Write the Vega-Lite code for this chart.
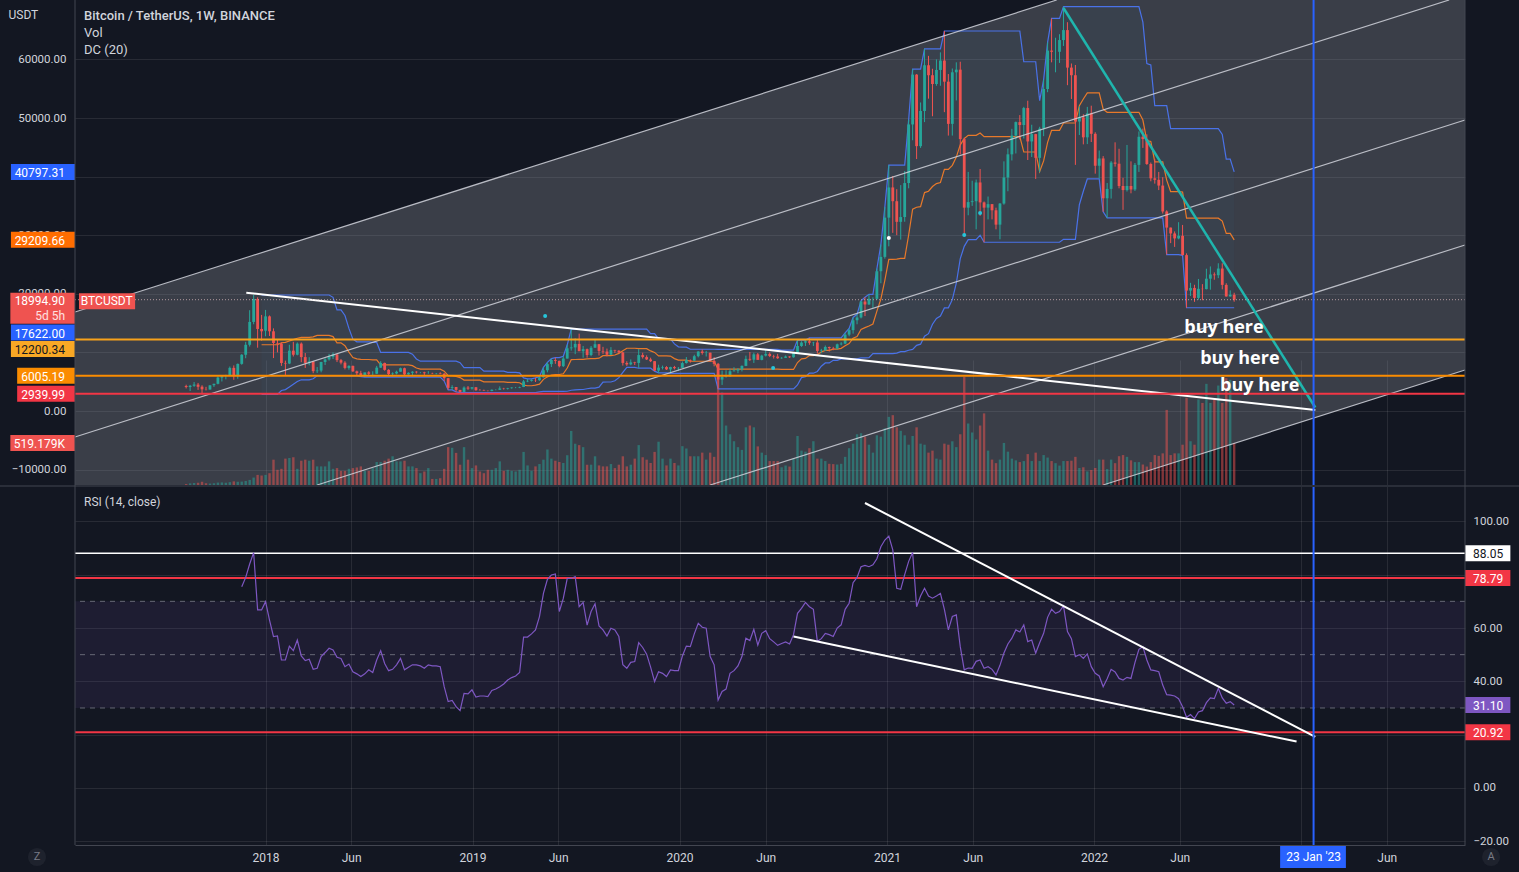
{
"$schema": "https://vega.github.io/schema/vega-lite/v6.json",
"width": 1390,
"height": 845,
"autosize": {"type": "none"},
"padding": {"left": 75, "top": 0, "right": 54, "bottom": 27},
"background": "#131722",
"config": {
  "view": {"stroke": null},
  "font": "Roboto",
  "scale": {"continuousPadding": 0},
  "axis": {"labelColor": "#d1d4dc", "labelFont": "Roboto", "labelFontSize": 11.5, "tickSize": 0, "domain": false, "gridColor": "#ffffff", "gridOpacity": 0.09, "titleColor": "#d1d4dc"}
},
"datasets": {
"btc": [
{"d":"2017-08-14","o":4261,"h":4485,"l":3850,"c":4086,"v":12000},
{"d":"2017-08-21","o":4087,"h":4453,"l":3400,"c":4310,"v":20000},
{"d":"2017-08-28","o":4310,"h":4939,"l":4124,"c":4509,"v":25000},
{"d":"2017-09-04","o":4505,"h":4788,"l":3603,"c":4130,"v":28000},
{"d":"2017-09-11","o":4153,"h":4394,"l":2817,"c":3699,"v":40000},
{"d":"2017-09-18","o":3690,"h":4123,"l":3505,"c":3660,"v":22000},
{"d":"2017-09-25","o":3660,"h":4406,"l":3653,"c":4378,"v":18000},
{"d":"2017-10-02","o":4400,"h":4658,"l":4110,"c":4640,"v":22000},
{"d":"2017-10-09","o":4640,"h":5900,"l":4550,"c":5710,"v":30000},
{"d":"2017-10-16","o":5710,"h":6069,"l":5037,"c":5930,"v":32000},
{"d":"2017-10-23","o":5975,"h":6189,"l":5400,"c":6130,"v":28000},
{"d":"2017-10-30","o":6130,"h":7590,"l":6030,"c":7360,"v":35000},
{"d":"2017-11-06","o":7360,"h":7776,"l":5325,"c":5950,"v":45000},
{"d":"2017-11-13","o":5950,"h":8100,"l":5500,"c":8040,"v":40000},
{"d":"2017-11-20","o":8040,"h":9700,"l":7900,"c":9600,"v":42000,"r":75.5},
{"d":"2017-11-27","o":9600,"h":11800,"l":9000,"c":11300,"v":50000,"r":79},
{"d":"2017-12-04","o":11300,"h":17200,"l":11000,"c":15200,"v":63000,"r":84},
{"d":"2017-12-11","o":15200,"h":19798,"l":14800,"c":19100,"v":92000,"r":88.3},
{"d":"2017-12-18","o":19100,"h":19400,"l":10800,"c":14000,"v":125000,"r":66.8},
{"d":"2017-12-25","o":14000,"h":16400,"l":12000,"c":13600,"v":117000,"r":66.8},
{"d":"2018-01-01","o":13700,"h":17250,"l":12750,"c":16150,"v":125000,"r":69.9},
{"d":"2018-01-08","o":16150,"h":16300,"l":12800,"c":13600,"v":146000,"r":63},
{"d":"2018-01-15","o":13600,"h":14100,"l":9035,"c":11600,"v":313000,"r":56.8},
{"d":"2018-01-22","o":11600,"h":12250,"l":10000,"c":11500,"v":188000,"r":57},
{"d":"2018-01-29","o":11500,"h":11700,"l":7700,"c":8200,"v":200000,"r":48},
{"d":"2018-02-05","o":8200,"h":8600,"l":6000,"c":8100,"v":326000,"r":48},
{"d":"2018-02-12","o":8100,"h":11300,"l":8000,"c":10300,"v":334000,"r":53.2},
{"d":"2018-02-19","o":10300,"h":11800,"l":9300,"c":9600,"v":343000,"r":51.5},
{"d":"2018-02-26","o":9600,"h":11700,"l":9500,"c":11500,"v":200000,"r":55.5},
{"d":"2018-03-05","o":11500,"h":11700,"l":8330,"c":9200,"v":300000,"r":49.5},
{"d":"2018-03-12","o":9200,"h":9900,"l":7350,"c":8200,"v":313000,"r":47.8},
{"d":"2018-03-19","o":8200,"h":9180,"l":7800,"c":8450,"v":300000,"r":48.3},
{"d":"2018-03-26","o":8450,"h":8500,"l":6450,"c":6800,"v":313000,"r":44.5},
{"d":"2018-04-02","o":6800,"h":7500,"l":6500,"c":6900,"v":230000,"r":44.9},
{"d":"2018-04-09","o":6900,"h":8400,"l":6600,"c":8360,"v":230000,"r":49.3},
{"d":"2018-04-16","o":8360,"h":9000,"l":7850,"c":8800,"v":230000,"r":50.8},
{"d":"2018-04-23","o":8800,"h":9750,"l":8600,"c":9250,"v":292000,"r":52.4},
{"d":"2018-04-30","o":9250,"h":9990,"l":8870,"c":9650,"v":200000,"r":51.8},
{"d":"2018-05-07","o":9650,"h":9700,"l":8350,"c":8680,"v":209000,"r":49},
{"d":"2018-05-14","o":8680,"h":8880,"l":7950,"c":8250,"v":175000,"r":48.6},
{"d":"2018-05-21","o":8250,"h":8500,"l":7100,"c":7350,"v":175000,"r":45.5},
{"d":"2018-05-28","o":7350,"h":7800,"l":7050,"c":7700,"v":200000,"r":46.5},
{"d":"2018-06-04","o":7700,"h":7750,"l":6650,"c":6770,"v":209000,"r":43.6},
{"d":"2018-06-11","o":6770,"h":6900,"l":6100,"c":6450,"v":217000,"r":42.8},
{"d":"2018-06-18","o":6450,"h":6860,"l":5850,"c":6150,"v":230000,"r":41.8},
{"d":"2018-06-25","o":6150,"h":6450,"l":5780,"c":6600,"v":175000,"r":42.8},
{"d":"2018-07-02","o":6600,"h":6800,"l":6100,"c":6350,"v":175000,"r":44.3},
{"d":"2018-07-09","o":6350,"h":6780,"l":6080,"c":6360,"v":209000,"r":43.3},
{"d":"2018-07-16","o":6360,"h":7700,"l":6300,"c":7400,"v":284000,"r":48},
{"d":"2018-07-23","o":7400,"h":8500,"l":7350,"c":8200,"v":284000,"r":51.5},
{"d":"2018-07-30","o":8200,"h":8250,"l":6880,"c":7020,"v":300000,"r":46.7},
{"d":"2018-08-06","o":7020,"h":7150,"l":5970,"c":6300,"v":326000,"r":44},
{"d":"2018-08-13","o":6300,"h":6600,"l":5900,"c":6400,"v":355000,"r":44.5},
{"d":"2018-08-20","o":6400,"h":6880,"l":6250,"c":6700,"v":292000,"r":46.2},
{"d":"2018-08-27","o":6700,"h":7400,"l":6700,"c":7300,"v":292000,"r":48.6},
{"d":"2018-09-03","o":7300,"h":7400,"l":6100,"c":6250,"v":300000,"r":44.3},
{"d":"2018-09-10","o":6250,"h":6600,"l":6180,"c":6520,"v":230000,"r":45.3},
{"d":"2018-09-17","o":6520,"h":6800,"l":6100,"c":6700,"v":230000,"r":46.2},
{"d":"2018-09-24","o":6700,"h":6800,"l":6400,"c":6600,"v":209000,"r":46.2},
{"d":"2018-10-01","o":6600,"h":6650,"l":6450,"c":6600,"v":146000,"r":45.8},
{"d":"2018-10-08","o":6600,"h":6700,"l":6150,"c":6450,"v":167000,"r":44.9},
{"d":"2018-10-15","o":6450,"h":6800,"l":6350,"c":6450,"v":209000,"r":46.2},
{"d":"2018-10-22","o":6450,"h":6540,"l":6300,"c":6400,"v":75000,"r":45.8},
{"d":"2018-10-29","o":6400,"h":6480,"l":6250,"c":6440,"v":75000,"r":45.8},
{"d":"2018-11-05","o":6440,"h":6600,"l":6280,"c":6350,"v":84000,"r":45.5},
{"d":"2018-11-12","o":6350,"h":6500,"l":5100,"c":5600,"v":200000,"r":38},
{"d":"2018-11-19","o":5600,"h":5650,"l":3600,"c":3950,"v":468000,"r":32.4},
{"d":"2018-11-26","o":3950,"h":4400,"l":3600,"c":4100,"v":460000,"r":32.8},
{"d":"2018-12-03","o":4100,"h":4100,"l":3270,"c":3600,"v":397000,"r":30.5},
{"d":"2018-12-10","o":3600,"h":3600,"l":3150,"c":3250,"v":251000,"r":29},
{"d":"2018-12-17","o":3250,"h":4200,"l":3250,"c":4000,"v":468000,"r":35.5},
{"d":"2018-12-24","o":4000,"h":4260,"l":3600,"c":3820,"v":313000,"r":35.3},
{"d":"2018-12-31","o":3820,"h":4080,"l":3650,"c":4050,"v":209000,"r":36.8},
{"d":"2019-01-07","o":4050,"h":4100,"l":3450,"c":3550,"v":242000,"r":34.1},
{"d":"2019-01-14","o":3550,"h":3750,"l":3480,"c":3530,"v":167000,"r":34.5},
{"d":"2019-01-21","o":3530,"h":3650,"l":3440,"c":3450,"v":146000,"r":34.5},
{"d":"2019-01-28","o":3450,"h":3500,"l":3350,"c":3420,"v":188000,"r":34.3},
{"d":"2019-02-04","o":3420,"h":3680,"l":3370,"c":3620,"v":188000,"r":36.6},
{"d":"2019-02-11","o":3620,"h":3700,"l":3540,"c":3620,"v":209000,"r":37.1},
{"d":"2019-02-18","o":3620,"h":4200,"l":3600,"c":3850,"v":292000,"r":38},
{"d":"2019-02-25","o":3850,"h":3950,"l":3650,"c":3800,"v":175000,"r":39},
{"d":"2019-03-04","o":3800,"h":3950,"l":3670,"c":3900,"v":188000,"r":40.5},
{"d":"2019-03-11","o":3900,"h":4050,"l":3800,"c":4000,"v":175000,"r":41.4},
{"d":"2019-03-18","o":4000,"h":4100,"l":3900,"c":4000,"v":167000,"r":42},
{"d":"2019-03-25","o":4000,"h":4150,"l":3900,"c":4100,"v":188000,"r":43.3},
{"d":"2019-04-01","o":4100,"h":5300,"l":4070,"c":5050,"v":409000,"r":56.6},
{"d":"2019-04-08","o":5050,"h":5470,"l":4920,"c":5150,"v":242000,"r":56.6},
{"d":"2019-04-15","o":5150,"h":5420,"l":5030,"c":5300,"v":175000,"r":57.8},
{"d":"2019-04-22","o":5300,"h":5660,"l":4950,"c":5250,"v":230000,"r":59.3},
{"d":"2019-04-29","o":5250,"h":5900,"l":5150,"c":5750,"v":259000,"r":64.3},
{"d":"2019-05-06","o":5750,"h":7450,"l":5700,"c":6950,"v":313000,"r":73},
{"d":"2019-05-13","o":6950,"h":8300,"l":6600,"c":8000,"v":439000,"r":78.3},
{"d":"2019-05-20","o":8000,"h":8950,"l":7500,"c":8700,"v":326000,"r":79.9},
{"d":"2019-05-27","o":8700,"h":9100,"l":8050,"c":8550,"v":300000,"r":80.3},
{"d":"2019-06-03","o":8550,"h":8600,"l":7450,"c":7650,"v":284000,"r":66.2},
{"d":"2019-06-10","o":7650,"h":9350,"l":7500,"c":8950,"v":272000,"r":71.1},
{"d":"2019-06-17","o":8950,"h":11300,"l":8950,"c":10700,"v":368000,"r":78.6},
{"d":"2019-06-24","o":10700,"h":13970,"l":10300,"c":10850,"v":668000,"r":78.6},
{"d":"2019-07-01","o":10850,"h":12400,"l":9700,"c":11450,"v":510000,"r":79.3},
{"d":"2019-07-08","o":11450,"h":13200,"l":10300,"c":10200,"v":493000,"r":68},
{"d":"2019-07-15","o":10200,"h":11100,"l":9100,"c":10550,"v":468000,"r":69.6},
{"d":"2019-07-22","o":10550,"h":10650,"l":9100,"c":9550,"v":251000,"r":61.1},
{"d":"2019-07-29","o":9550,"h":11100,"l":9350,"c":10800,"v":251000,"r":66.2},
{"d":"2019-08-05","o":10800,"h":12300,"l":10800,"c":11400,"v":355000,"r":69.1},
{"d":"2019-08-12","o":11400,"h":11450,"l":9470,"c":10250,"v":242000,"r":60.8},
{"d":"2019-08-19","o":10250,"h":10950,"l":9750,"c":10150,"v":230000,"r":59.3},
{"d":"2019-08-26","o":10150,"h":10650,"l":9320,"c":9600,"v":230000,"r":57},
{"d":"2019-09-02","o":9600,"h":10900,"l":9580,"c":10400,"v":259000,"r":59.9},
{"d":"2019-09-09","o":10400,"h":10450,"l":9900,"c":10300,"v":209000,"r":59.3},
{"d":"2019-09-16","o":10300,"h":10380,"l":9900,"c":10000,"v":251000,"r":56.8},
{"d":"2019-09-23","o":10000,"h":10080,"l":7750,"c":8200,"v":355000,"r":46.2},
{"d":"2019-09-30","o":8200,"h":8500,"l":7700,"c":7950,"v":230000,"r":44.9},
{"d":"2019-10-07","o":7950,"h":8800,"l":7800,"c":8300,"v":251000,"r":47.1},
{"d":"2019-10-14","o":8300,"h":8400,"l":7850,"c":8200,"v":326000,"r":47.4},
{"d":"2019-10-21","o":8200,"h":10540,"l":7300,"c":9550,"v":493000,"r":54.5},
{"d":"2019-10-28","o":9550,"h":9950,"l":8950,"c":9200,"v":343000,"r":52.7},
{"d":"2019-11-04","o":9200,"h":9500,"l":8700,"c":8800,"v":313000,"r":50.2},
{"d":"2019-11-11","o":8800,"h":9100,"l":8350,"c":8500,"v":272000,"r":45.3},
{"d":"2019-11-18","o":8500,"h":8500,"l":6800,"c":6900,"v":409000,"r":39.9},
{"d":"2019-11-25","o":6900,"h":7900,"l":6500,"c":7400,"v":535000,"r":43.6},
{"d":"2019-12-02","o":7400,"h":7750,"l":7100,"c":7500,"v":326000,"r":43},
{"d":"2019-12-09","o":7500,"h":7650,"l":7000,"c":7100,"v":242000,"r":41.8},
{"d":"2019-12-16","o":7100,"h":7550,"l":6435,"c":7500,"v":326000,"r":44.3},
{"d":"2019-12-23","o":7500,"h":7700,"l":7100,"c":7300,"v":272000,"r":44},
{"d":"2019-12-30","o":7300,"h":7500,"l":6850,"c":7350,"v":242000,"r":44},
{"d":"2020-01-06","o":7350,"h":8450,"l":7350,"c":8180,"v":480000,"r":49.5},
{"d":"2020-01-13","o":8180,"h":9200,"l":8100,"c":8700,"v":451000,"r":53.2},
{"d":"2020-01-20","o":8700,"h":8800,"l":8250,"c":8600,"v":355000,"r":53},
{"d":"2020-01-27","o":8600,"h":9600,"l":8550,"c":9350,"v":355000,"r":57.8},
{"d":"2020-02-03","o":9350,"h":10200,"l":9150,"c":10150,"v":355000,"r":61.8},
{"d":"2020-02-10","o":10150,"h":10500,"l":9620,"c":9900,"v":400000,"r":60.3},
{"d":"2020-02-17","o":9900,"h":10250,"l":9300,"c":9950,"v":314000,"r":59.9},
{"d":"2020-02-24","o":9950,"h":9960,"l":8400,"c":8550,"v":400000,"r":49.3},
{"d":"2020-03-02","o":8550,"h":9200,"l":7620,"c":8050,"v":348000,"r":46.2},
{"d":"2020-03-09","o":8050,"h":8200,"l":3782,"c":5360,"v":1336000,"r":33},
{"d":"2020-03-16","o":5360,"h":6900,"l":4450,"c":5800,"v":1143000,"r":36.2},
{"d":"2020-03-23","o":5800,"h":6950,"l":5700,"c":5900,"v":735000,"r":37.1},
{"d":"2020-03-30","o":5900,"h":7200,"l":5850,"c":6780,"v":627000,"r":43},
{"d":"2020-04-06","o":6780,"h":7470,"l":6750,"c":6900,"v":541000,"r":44},
{"d":"2020-04-13","o":6900,"h":7300,"l":6450,"c":7120,"v":468000,"r":45.8},
{"d":"2020-04-20","o":7120,"h":7780,"l":6750,"c":7700,"v":434000,"r":49.3},
{"d":"2020-04-27","o":7700,"h":9450,"l":7650,"c":8900,"v":713000,"r":56.2},
{"d":"2020-05-04","o":8900,"h":10070,"l":8530,"c":8750,"v":735000,"r":55.3},
{"d":"2020-05-11","o":8750,"h":9950,"l":8200,"c":9670,"v":713000,"r":59.5},
{"d":"2020-05-18","o":9670,"h":9900,"l":8800,"c":8720,"v":477000,"r":53.6},
{"d":"2020-05-25","o":8720,"h":9600,"l":8650,"c":9450,"v":400000,"r":58},
{"d":"2020-06-01","o":9450,"h":10400,"l":9300,"c":9750,"v":370000,"r":59},
{"d":"2020-06-08","o":9750,"h":10000,"l":9200,"c":9380,"v":296000,"r":56},
{"d":"2020-06-15","o":9380,"h":9600,"l":8950,"c":9300,"v":296000,"r":54.8},
{"d":"2020-06-22","o":9300,"h":9750,"l":8900,"c":9000,"v":296000,"r":53.5},
{"d":"2020-06-29","o":9000,"h":9200,"l":8900,"c":9070,"v":219000,"r":54.2},
{"d":"2020-07-06","o":9070,"h":9470,"l":9050,"c":9300,"v":241000,"r":54.8},
{"d":"2020-07-13","o":9300,"h":9350,"l":9050,"c":9170,"v":228000,"r":54},
{"d":"2020-07-20","o":9170,"h":9990,"l":9100,"c":9930,"v":326000,"r":57.5},
{"d":"2020-07-27","o":9930,"h":12100,"l":9900,"c":11100,"v":606000,"r":65.5},
{"d":"2020-08-03","o":11100,"h":11900,"l":10950,"c":11680,"v":425000,"r":67.4},
{"d":"2020-08-10","o":11680,"h":12100,"l":11100,"c":11900,"v":412000,"r":69.6},
{"d":"2020-08-17","o":11900,"h":12480,"l":11300,"c":11650,"v":455000,"r":68},
{"d":"2020-08-24","o":11650,"h":11800,"l":11100,"c":11700,"v":541000,"r":67},
{"d":"2020-08-31","o":11700,"h":12100,"l":9800,"c":10250,"v":326000,"r":55},
{"d":"2020-09-07","o":10250,"h":10600,"l":9880,"c":10330,"v":326000,"r":56},
{"d":"2020-09-14","o":10330,"h":11180,"l":10250,"c":10920,"v":296000,"r":58},
{"d":"2020-09-21","o":10920,"h":10990,"l":10140,"c":10730,"v":262000,"r":57.5},
{"d":"2020-09-28","o":10730,"h":10950,"l":10370,"c":10670,"v":258000,"r":56.8},
{"d":"2020-10-05","o":10670,"h":11500,"l":10520,"c":11380,"v":253000,"r":60},
{"d":"2020-10-12","o":11380,"h":11750,"l":11200,"c":11500,"v":262000,"r":61.2},
{"d":"2020-10-19","o":11500,"h":13350,"l":11400,"c":13030,"v":348000,"r":67},
{"d":"2020-10-26","o":13030,"h":14100,"l":12750,"c":13800,"v":455000,"r":69.3},
{"d":"2020-11-02","o":13800,"h":15960,"l":13200,"c":15480,"v":511000,"r":77},
{"d":"2020-11-09","o":15480,"h":16500,"l":14800,"c":15960,"v":627000,"r":79},
{"d":"2020-11-16","o":15960,"h":18800,"l":15800,"c":18680,"v":640000,"r":83},
{"d":"2020-11-23","o":18680,"h":19400,"l":16200,"c":18180,"v":597000,"r":83.5},
{"d":"2020-11-30","o":18180,"h":19900,"l":18100,"c":19150,"v":498000,"r":83},
{"d":"2020-12-07","o":19150,"h":19400,"l":17600,"c":19150,"v":400000,"r":83.7},
{"d":"2020-12-14","o":19150,"h":24300,"l":19000,"c":23850,"v":614000,"r":86},
{"d":"2020-12-21","o":23850,"h":28400,"l":21800,"c":26300,"v":597000,"r":90.5},
{"d":"2020-12-28","o":26300,"h":34800,"l":26000,"c":33000,"v":700000,"r":93},
{"d":"2021-01-04","o":33000,"h":41950,"l":28100,"c":38150,"v":842000,"r":94.5},
{"d":"2021-01-11","o":38150,"h":40100,"l":30400,"c":35800,"v":863000,"r":89.3},
{"d":"2021-01-18","o":35800,"h":37850,"l":30000,"c":32280,"v":713000,"r":74.9},
{"d":"2021-01-25","o":32280,"h":38550,"l":29250,"c":33100,"v":670000,"r":74.5},
{"d":"2021-02-01","o":33100,"h":40950,"l":32300,"c":38900,"v":614000,"r":80},
{"d":"2021-02-08","o":38900,"h":49700,"l":38000,"c":48900,"v":498000,"r":85},
{"d":"2021-02-15","o":48900,"h":58350,"l":46200,"c":57400,"v":606000,"r":88.3},
{"d":"2021-02-22","o":57400,"h":57500,"l":43000,"c":45200,"v":713000,"r":68},
{"d":"2021-03-01","o":45200,"h":52650,"l":44900,"c":51200,"v":511000,"r":72},
{"d":"2021-03-08","o":51200,"h":61800,"l":49300,"c":59000,"v":498000,"r":74.9},
{"d":"2021-03-15","o":59000,"h":60600,"l":53300,"c":57300,"v":400000,"r":72},
{"d":"2021-03-22","o":57300,"h":58400,"l":50300,"c":55800,"v":425000,"r":71.2},
{"d":"2021-03-29","o":55800,"h":60000,"l":55500,"c":58200,"v":326000,"r":72},
{"d":"2021-04-05","o":58200,"h":61200,"l":55500,"c":59800,"v":314000,"r":73},
{"d":"2021-04-12","o":59800,"h":64850,"l":51000,"c":56200,"v":511000,"r":67},
{"d":"2021-04-19","o":56200,"h":57500,"l":47000,"c":49000,"v":498000,"r":59.3},
{"d":"2021-04-26","o":49000,"h":58450,"l":47000,"c":57800,"v":540000,"r":64.3},
{"d":"2021-05-03","o":57800,"h":59500,"l":53000,"c":58250,"v":468000,"r":64.9},
{"d":"2021-05-10","o":58250,"h":59600,"l":43800,"c":46400,"v":627000,"r":53},
{"d":"2021-05-17","o":46400,"h":46650,"l":30000,"c":34700,"v":1336000,"r":44.3},
{"d":"2021-05-24","o":34700,"h":40800,"l":33400,"c":35650,"v":760000,"r":45},
{"d":"2021-05-31","o":35650,"h":39300,"l":35000,"c":35800,"v":649000,"r":44.9},
{"d":"2021-06-07","o":35800,"h":39500,"l":31000,"c":39000,"v":563000,"r":47.5},
{"d":"2021-06-14","o":39000,"h":41300,"l":33300,"c":35600,"v":735000,"r":48},
{"d":"2021-06-21","o":35600,"h":35750,"l":28800,"c":34700,"v":885000,"r":44.9},
{"d":"2021-06-28","o":34700,"h":36600,"l":32700,"c":35300,"v":425000,"r":45.5},
{"d":"2021-07-05","o":35300,"h":35300,"l":32700,"c":34250,"v":314000,"r":44.5},
{"d":"2021-07-12","o":34250,"h":34700,"l":31000,"c":31800,"v":270000,"r":42.4},
{"d":"2021-07-19","o":31800,"h":35500,"l":29300,"c":35400,"v":314000,"r":46},
{"d":"2021-07-26","o":35400,"h":42600,"l":35200,"c":39850,"v":520000,"r":50.6},
{"d":"2021-08-02","o":39850,"h":44800,"l":37500,"c":43800,"v":412000,"r":54},
{"d":"2021-08-09","o":43800,"h":48150,"l":42750,"c":47000,"v":326000,"r":56.2},
{"d":"2021-08-16","o":47000,"h":49400,"l":43950,"c":49300,"v":305000,"r":59.3},
{"d":"2021-08-23","o":49300,"h":50500,"l":46350,"c":48800,"v":283000,"r":58.5},
{"d":"2021-08-30","o":48800,"h":51900,"l":46500,"c":51700,"v":296000,"r":61.2},
{"d":"2021-09-06","o":51700,"h":52950,"l":42830,"c":46000,"v":382000,"r":54.9},
{"d":"2021-09-13","o":46000,"h":48850,"l":43350,"c":47250,"v":296000,"r":55.5},
{"d":"2021-09-20","o":47250,"h":47300,"l":39600,"c":43200,"v":400000,"r":50.6},
{"d":"2021-09-27","o":43200,"h":48500,"l":40750,"c":48200,"v":296000,"r":54.5},
{"d":"2021-10-04","o":48200,"h":56550,"l":46900,"c":54950,"v":370000,"r":58},
{"d":"2021-10-11","o":54950,"h":62900,"l":54400,"c":61500,"v":339000,"r":64},
{"d":"2021-10-18","o":61500,"h":67000,"l":59500,"c":61300,"v":296000,"r":67},
{"d":"2021-10-25","o":61300,"h":63700,"l":57800,"c":61300,"v":270000,"r":65.5},
{"d":"2021-11-01","o":61300,"h":64300,"l":59400,"c":63300,"v":240000,"r":66.2},
{"d":"2021-11-08","o":63300,"h":69000,"l":62300,"c":65000,"v":296000,"r":68.3},
{"d":"2021-11-15","o":65000,"h":66350,"l":55600,"c":58600,"v":296000,"r":58.7},
{"d":"2021-11-22","o":58600,"h":59300,"l":53250,"c":57300,"v":300000,"r":56},
{"d":"2021-11-29","o":57300,"h":59050,"l":42000,"c":49400,"v":348000,"r":49.3},
{"d":"2021-12-06","o":49400,"h":51950,"l":47100,"c":50100,"v":210000,"r":50},
{"d":"2021-12-13","o":50100,"h":50650,"l":45500,"c":46700,"v":219000,"r":48.6},
{"d":"2021-12-20","o":46700,"h":51900,"l":45550,"c":50800,"v":168000,"r":50.3},
{"d":"2021-12-27","o":50800,"h":52100,"l":45900,"c":47300,"v":185000,"r":45.5},
{"d":"2022-01-03","o":47300,"h":47570,"l":40500,"c":41850,"v":210000,"r":43},
{"d":"2022-01-10","o":41850,"h":44450,"l":39650,"c":43100,"v":314000,"r":42},
{"d":"2022-01-17","o":43100,"h":43500,"l":34000,"c":36300,"v":314000,"r":38},
{"d":"2022-01-24","o":36300,"h":38900,"l":32950,"c":37900,"v":197000,"r":41},
{"d":"2022-01-31","o":37900,"h":42650,"l":36250,"c":42400,"v":314000,"r":44.5},
{"d":"2022-02-07","o":42400,"h":45850,"l":41700,"c":42200,"v":270000,"r":43.5},
{"d":"2022-02-14","o":42200,"h":44750,"l":38000,"c":38400,"v":356000,"r":41.1},
{"d":"2022-02-21","o":38400,"h":39800,"l":34320,"c":37700,"v":370000,"r":40.5},
{"d":"2022-02-28","o":37700,"h":45400,"l":37450,"c":38400,"v":348000,"r":41.5},
{"d":"2022-03-07","o":38400,"h":42600,"l":37150,"c":37800,"v":305000,"r":41.1},
{"d":"2022-03-14","o":37800,"h":42320,"l":37550,"c":42000,"v":283000,"r":47},
{"d":"2022-03-21","o":42000,"h":47700,"l":40800,"c":46800,"v":283000,"r":52},
{"d":"2022-03-28","o":46800,"h":48190,"l":44900,"c":46400,"v":253000,"r":53},
{"d":"2022-04-04","o":46400,"h":47200,"l":42000,"c":42150,"v":228000,"r":48},
{"d":"2022-04-11","o":42150,"h":42400,"l":39200,"c":39700,"v":283000,"r":44.3},
{"d":"2022-04-18","o":39700,"h":42980,"l":38800,"c":39450,"v":370000,"r":44},
{"d":"2022-04-25","o":39450,"h":40797.31,"l":37700,"c":38470,"v":360000,"r":43.6},
{"d":"2022-05-02","o":38470,"h":39900,"l":33700,"c":34050,"v":391000,"r":38.6},
{"d":"2022-05-09","o":34050,"h":34250,"l":26700,"c":31300,"v":928000,"r":35},
{"d":"2022-05-16","o":31300,"h":31300,"l":28650,"c":30300,"v":370000,"r":34.8},
{"d":"2022-05-23","o":30300,"h":30650,"l":28000,"c":29450,"v":391000,"r":34.5},
{"d":"2022-05-30","o":29450,"h":32220,"l":29300,"c":29900,"v":391000,"r":33.5},
{"d":"2022-06-06","o":29900,"h":31750,"l":26560,"c":26600,"v":498000,"r":30.5},
{"d":"2022-06-13","o":26600,"h":26900,"l":17622,"c":20550,"v":1078000,"r":26.5},
{"d":"2022-06-20","o":20550,"h":21870,"l":19630,"c":21000,"v":541000,"r":27.5},
{"d":"2022-06-27","o":21000,"h":21540,"l":18620,"c":19300,"v":498000,"r":26},
{"d":"2022-07-04","o":19300,"h":22530,"l":19000,"c":20850,"v":1057000,"r":28.5},
{"d":"2022-07-11","o":20850,"h":21650,"l":18900,"c":20800,"v":1014000,"r":29},
{"d":"2022-07-18","o":20800,"h":24280,"l":20750,"c":22580,"v":1250000,"r":32},
{"d":"2022-07-25","o":22580,"h":24670,"l":20700,"c":23300,"v":1014000,"r":33.8},
{"d":"2022-08-01","o":23300,"h":23650,"l":22400,"c":23170,"v":1057000,"r":33.5},
{"d":"2022-08-08","o":23170,"h":25210,"l":22670,"c":24310,"v":1229000,"r":37.4},
{"d":"2022-08-15","o":24310,"h":25210,"l":20760,"c":21520,"v":1014000,"r":33.8},
{"d":"2022-08-22","o":21520,"h":21800,"l":19520,"c":19550,"v":1320000,"r":31.8},
{"d":"2022-08-29","o":19550,"h":20580,"l":19520,"c":19830,"v":1300000,"r":32.4},
{"d":"2022-09-05","o":19830,"h":20180,"l":18650,"c":18994.9,"v":519179,"r":31.1}
]
},
"resolve": {"scale": {"y": "independent", "color": "independent"}, "axis": {"y": "independent"}},
"layer": [
{
  "data": {"values": [
    {"d":"2017-01-30","top":16894,"bot":-12628},
    {"d":"2021-10-27","top":70137,"bot":-12628},
    {"d":"2022-01-17","top":70137,"bot":-12628},
    {"d":"2023-10-17","top":70137,"bot":6997}
  ]},
  "mark": {"type": "area", "color": "#9598a1", "opacity": 0.3},
  "encoding": {
    "x": {"field": "d", "type": "temporal", "title": null,
      "scale": {"domain": [{"year":2017,"month":1,"date":30},{"year":2023,"month":10,"date":17}], "padding": 0},
      "axis": {
        "values": [{"year":2018,"month":1,"date":1},{"year":2018,"month":6,"date":1},{"year":2019,"month":1,"date":1},{"year":2019,"month":6,"date":1},{"year":2020,"month":1,"date":1},{"year":2020,"month":6,"date":1},{"year":2021,"month":1,"date":1},{"year":2021,"month":6,"date":1},{"year":2022,"month":1,"date":1},{"year":2022,"month":6,"date":1},{"year":2023,"month":1,"date":1},{"year":2023,"month":6,"date":1}],
        "labelExpr": "month(datum.value) == 0 ? (year(datum.value) == 2023 ? '' : timeFormat(datum.value, '%Y')) : 'Jun'",
        "grid": true, "labelPadding": 7, "labelFontSize": 12, "labelFlush": false, "labelOverlap": false,
        "domain": true, "domainColor": "#434651", "title": null
      }},
    "y": {"field": "top", "type": "quantitative",
      "scale": {"domain": [-12628, 70137], "range": [485, 0], "nice": false, "zero": false},
      "axis": {"orient": "left", "values": [-10000, 0, 10000, 20000, 30000, 40000, 50000, 60000], "labelExpr": "datum.value == 40000 || datum.value == 10000 ? '' : format(datum.value, '.2f')", "grid": true, "labelPadding": 9,
        "title": "USDT", "titleAngle": 0, "titleAlign": "left", "titleBaseline": "alphabetic", "titleX": -67, "titleY": 18, "titleFontSize": 12, "titleFontWeight": "normal"}},
    "y2": {"field": "bot"}
  }
},
{
  "layer": [
    {
      "data": {"name": "btc"},
      "mark": {"type": "bar", "size": 2.4, "opacity": 0.5},
      "encoding": {
        "x": {"field": "d", "type": "temporal", "title": null, "scale": {"domain": [{"year":2017,"month":1,"date":30},{"year":2023,"month":10,"date":17}], "padding": 0}},
        "y": {"field": "v", "type": "quantitative", "scale": {"domain": [0, 1500000], "range": [485, 363.6], "nice": false}, "axis": null},
        "y2": {"datum": 0},
        "color": {"condition": {"test": "datum.c >= datum.o", "value": "#26a69a"}, "value": "#ef5350"}
      }
    },
    {
      "data": {"values": [{"v": 519179, "t": "519.179K"}]},
      "mark": {"type": "rule", "strokeWidth": 16, "color": "#ef5350"},
      "encoding": {
        "x": {"datum": {"year":2016,"month":10,"date":8}, "type": "temporal", "title": null},
        "x2": {"datum": {"year":2017,"month":1,"date":30}},
        "y": {"field": "v", "type": "quantitative"}
      }
    },
    {
      "data": {"values": [{"v": 519179, "t": "519.179K"}]},
      "mark": {"type": "text", "align": "right", "baseline": "middle", "dx": -10, "dy": 1, "color": "#ffffff", "fontSize": 12},
      "encoding": {
        "x": {"datum": {"year":2017,"month":1,"date":30}, "type": "temporal", "title": null},
        "y": {"field": "v", "type": "quantitative"},
        "text": {"field": "t"}
      }
    }
  ]
},
{
  "layer": [
    {
      "data": {"name": "btc"},
      "transform": [
        {"window": [{"op": "max", "field": "h", "as": "u"}, {"op": "min", "field": "l", "as": "lo"}, {"op": "count", "as": "n"}], "frame": [-19, 0], "sort": [{"field": "d"}]},
        {"filter": "datum.n >= 20"}
      ],
      "mark": {"type": "area", "color": "#2196f3", "opacity": 0.03},
      "encoding": {
        "x": {"field": "d", "type": "temporal", "title": null, "scale": {"domain": [{"year":2017,"month":1,"date":30},{"year":2023,"month":10,"date":17}], "padding": 0}},
        "y": {"field": "u", "type": "quantitative", "scale": {"domain": [-12628, 70137], "range": [485, 0], "nice": false, "zero": false}, "axis": null},
        "y2": {"field": "lo"}
      }
    },
    {
      "data": {"name": "btc"},
      "transform": [
        {"window": [{"op": "max", "field": "h", "as": "u"}, {"op": "count", "as": "n"}], "frame": [-19, 0], "sort": [{"field": "d"}]},
        {"filter": "datum.n >= 20"}
      ],
      "mark": {"type": "line", "color": "#4a72e8", "strokeWidth": 1.2},
      "encoding": {
        "x": {"field": "d", "type": "temporal", "title": null},
        "y": {"field": "u", "type": "quantitative"}
      }
    },
    {
      "data": {"name": "btc"},
      "transform": [
        {"window": [{"op": "min", "field": "l", "as": "lo"}, {"op": "count", "as": "n"}], "frame": [-19, 0], "sort": [{"field": "d"}]},
        {"filter": "datum.n >= 20"}
      ],
      "mark": {"type": "line", "color": "#4a72e8", "strokeWidth": 1.2},
      "encoding": {
        "x": {"field": "d", "type": "temporal", "title": null},
        "y": {"field": "lo", "type": "quantitative"}
      }
    },
    {
      "data": {"name": "btc"},
      "transform": [
        {"window": [{"op": "max", "field": "h", "as": "u"}, {"op": "min", "field": "l", "as": "lo"}, {"op": "count", "as": "n"}], "frame": [-19, 0], "sort": [{"field": "d"}]},
        {"filter": "datum.n >= 20"},
        {"fold": ["u", "lo"], "as": ["kk", "vv"]},
        {"aggregate": [{"op": "mean", "field": "vv", "as": "m"}], "groupby": ["d"]}
      ],
      "mark": {"type": "line", "color": "#e8792a", "strokeWidth": 1.2},
      "encoding": {
        "x": {"field": "d", "type": "temporal", "title": null},
        "y": {"field": "m", "type": "quantitative"}
      }
    },
    {
      "data": {"name": "btc"},
      "mark": {"type": "rule", "strokeWidth": 1},
      "encoding": {
        "x": {"field": "d", "type": "temporal", "title": null},
        "y": {"field": "l", "type": "quantitative"},
        "y2": {"field": "h"},
        "color": {"condition": {"test": "datum.c >= datum.o", "value": "#26a69a"}, "value": "#ef5350"}
      }
    },
    {
      "data": {"name": "btc"},
      "mark": {"type": "bar", "size": 2.8},
      "encoding": {
        "x": {"field": "d", "type": "temporal", "title": null},
        "y": {"field": "o", "type": "quantitative"},
        "y2": {"field": "c"},
        "color": {"condition": {"test": "datum.c >= datum.o", "value": "#26a69a"}, "value": "#ef5350"}
      }
    },
    {
      "data": {"values": [
        {"k":1,"d":"2017-01-30","p":16894},{"k":1,"d":"2021-10-27","p":70137},
        {"k":2,"d":"2017-01-30","p":-4437},{"k":2,"d":"2023-09-19","p":70137},
        {"k":3,"d":"2018-04-02","p":-12628},{"k":3,"d":"2023-10-17","p":49659},
        {"k":4,"d":"2020-02-24","p":-12628},{"k":4,"d":"2023-10-17","p":28328},
        {"k":5,"d":"2022-01-17","p":-12628},{"k":5,"d":"2023-10-17","p":6997}
      ]},
      "mark": {"type": "line", "color": "#d1d4dc", "strokeWidth": 1.2, "opacity": 0.85},
      "encoding": {
        "x": {"field": "d", "type": "temporal", "title": null},
        "y": {"field": "p", "type": "quantitative"},
        "detail": {"field": "k", "type": "nominal"}
      }
    },
    {
      "data": {"values": [{"d":"2017-11-28","p":20188},{"d":"2023-01-26","p":171}]},
      "mark": {"type": "line", "color": "#ffffff", "strokeWidth": 2},
      "encoding": {
        "x": {"field": "d", "type": "temporal", "title": null},
        "y": {"field": "p", "type": "quantitative"}
      }
    },
    {
      "data": {"values": [{"d":"2021-11-08","p":68771},{"d":"2023-01-26","p":600}]},
      "mark": {"type": "line", "color": "#1fb5ad", "strokeWidth": 2.5},
      "encoding": {
        "x": {"field": "d", "type": "temporal", "title": null},
        "y": {"field": "p", "type": "quantitative"}
      }
    },
    {
      "data": {"values": [{"p": 12200.34}]},
      "mark": {"type": "rule", "color": "#f7a21b", "strokeWidth": 2},
      "encoding": {"y": {"field": "p", "type": "quantitative"}}
    },
    {
      "data": {"values": [{"p": 6005.19}]},
      "mark": {"type": "rule", "color": "#fb8c00", "strokeWidth": 2},
      "encoding": {"y": {"field": "p", "type": "quantitative"}}
    },
    {
      "data": {"values": [{"p": 2939.99}]},
      "mark": {"type": "rule", "color": "#f23645", "strokeWidth": 2},
      "encoding": {"y": {"field": "p", "type": "quantitative"}}
    },
    {
      "data": {"values": [{"p": 18994.9}]},
      "mark": {"type": "rule", "color": "#d1b0b4", "strokeWidth": 1, "strokeDash": [1, 2], "opacity": 0.8},
      "encoding": {"y": {"field": "p", "type": "quantitative"}}
    },
    {
      "data": {"values": [{"d":"2019-05-09","p":16212},{"d":"2020-06-14","p":7338},{"d":"2021-05-17","p":30034},{"d":"2021-06-14","p":33788}]},
      "mark": {"type": "circle", "size": 16, "color": "#26c6da", "opacity": 1},
      "encoding": {
        "x": {"field": "d", "type": "temporal", "title": null},
        "y": {"field": "p", "type": "quantitative"}
      }
    },
    {
      "data": {"values": [{"d":"2021-01-04","p":29522}]},
      "mark": {"type": "circle", "size": 16, "color": "#ffffff", "opacity": 1},
      "encoding": {
        "x": {"field": "d", "type": "temporal", "title": null},
        "y": {"field": "p", "type": "quantitative"}
      }
    },
    {
      "data": {"values": [{"d":"2022-08-18","p":14164,"t":"buy here"},{"d":"2022-09-15","p":8874,"t":"buy here"},{"d":"2022-10-20","p":4266,"t":"buy here"}]},
      "mark": {"type": "text", "font": "Open Sans", "fontWeight": "bold", "fontSize": 18, "color": "#ffffff", "align": "center", "baseline": "middle"},
      "encoding": {
        "x": {"field": "d", "type": "temporal", "title": null},
        "y": {"field": "p", "type": "quantitative"},
        "text": {"field": "t"}
      }
    },
    {
      "data": {"values": [{"d":"2017-02-15","p":67406,"t":"Bitcoin / TetherUS, 1W, BINANCE"}]},
      "mark": {"type": "text", "fontSize": 13, "fontWeight": 500, "color": "#d1d4dc", "align": "left", "baseline": "middle"},
      "encoding": {
        "x": {"field": "d", "type": "temporal", "title": null},
        "y": {"field": "p", "type": "quantitative"},
        "text": {"field": "t"}
      }
    },
    {
      "data": {"values": [{"d":"2017-02-15","p":64505,"t":"Vol"},{"d":"2017-02-15","p":61604,"t":"DC (20)"}]},
      "mark": {"type": "text", "fontSize": 13, "color": "#d1d4dc", "align": "left", "baseline": "middle"},
      "encoding": {
        "x": {"field": "d", "type": "temporal", "title": null},
        "y": {"field": "p", "type": "quantitative"},
        "text": {"field": "t"}
      }
    },
    {
      "data": {"values": [{"p":40797.31,"t":"40797.31"}]},
      "mark": {"type": "rule", "strokeWidth": 16, "color": "#2962ff"},
      "encoding": {
        "x": {"datum": {"year":2016,"month":10,"date":9}, "type": "temporal", "title": null},
        "x2": {"datum": {"year":2017,"month":1,"date":30}},
        "y": {"field": "p", "type": "quantitative"}
      }
    },
    {
      "data": {"values": [{"p":29209.66,"t":"29209.66"}]},
      "mark": {"type": "rule", "strokeWidth": 16, "color": "#ff6d00"},
      "encoding": {
        "x": {"datum": {"year":2016,"month":10,"date":9}, "type": "temporal", "title": null},
        "x2": {"datum": {"year":2017,"month":1,"date":30}},
        "y": {"field": "p", "type": "quantitative"}
      }
    },
    {
      "data": {"values": [{"p":17622.00,"t":"17622.00"}]},
      "mark": {"type": "rule", "strokeWidth": 16, "yOffset": 24.8, "color": "#2962ff"},
      "encoding": {
        "x": {"datum": {"year":2016,"month":10,"date":9}, "type": "temporal", "title": null},
        "x2": {"datum": {"year":2017,"month":1,"date":30}},
        "y": {"field": "p", "type": "quantitative"}
      }
    },
    {
      "data": {"values": [{"p":12200.34,"t":"12200.34"}]},
      "mark": {"type": "rule", "strokeWidth": 16, "yOffset": 9.5, "color": "#f9a825"},
      "encoding": {
        "x": {"datum": {"year":2016,"month":10,"date":9}, "type": "temporal", "title": null},
        "x2": {"datum": {"year":2017,"month":1,"date":30}},
        "y": {"field": "p", "type": "quantitative"}
      }
    },
    {
      "data": {"values": [{"p":6005.19,"t":"6005.19"}]},
      "mark": {"type": "rule", "strokeWidth": 16, "color": "#fb8c00"},
      "encoding": {
        "x": {"datum": {"year":2016,"month":10,"date":20}, "type": "temporal", "title": null},
        "x2": {"datum": {"year":2017,"month":1,"date":30}},
        "y": {"field": "p", "type": "quantitative"}
      }
    },
    {
      "data": {"values": [{"p":2939.99,"t":"2939.99"}]},
      "mark": {"type": "rule", "strokeWidth": 16, "color": "#f23645"},
      "encoding": {
        "x": {"datum": {"year":2016,"month":10,"date":20}, "type": "temporal", "title": null},
        "x2": {"datum": {"year":2017,"month":1,"date":30}},
        "y": {"field": "p", "type": "quantitative"}
      }
    },
    {
      "data": {"values": [
        {"p":40797.31,"t":"40797.31"},{"p":29209.66,"t":"29209.66"},
        {"p":6005.19,"t":"6005.19"},{"p":2939.99,"t":"2939.99"}
      ]},
      "mark": {"type": "text", "align": "right", "baseline": "middle", "dx": -10, "dy": 1, "color": "#ffffff", "fontSize": 12},
      "encoding": {
        "x": {"datum": {"year":2017,"month":1,"date":30}, "type": "temporal", "title": null},
        "y": {"field": "p", "type": "quantitative"},
        "text": {"field": "t"}
      }
    },
    {
      "data": {"values": [{"p":17622.00,"t":"17622.00"}]},
      "mark": {"type": "text", "align": "right", "baseline": "middle", "dx": -10, "dy": 25.8, "color": "#ffffff", "fontSize": 12},
      "encoding": {
        "x": {"datum": {"year":2017,"month":1,"date":30}, "type": "temporal", "title": null},
        "y": {"field": "p", "type": "quantitative"},
        "text": {"field": "t"}
      }
    },
    {
      "data": {"values": [{"p":12200.34,"t":"12200.34"}]},
      "mark": {"type": "text", "align": "right", "baseline": "middle", "dx": -10, "dy": 10.5, "color": "#131722", "fontSize": 12},
      "encoding": {
        "x": {"datum": {"year":2017,"month":1,"date":30}, "type": "temporal", "title": null},
        "y": {"field": "p", "type": "quantitative"},
        "text": {"field": "t"}
      }
    },
    {
      "data": {"values": [{"p": 18994.9}]},
      "mark": {"type": "rule", "strokeWidth": 31, "yOffset": 8.5, "color": "#ef5350"},
      "encoding": {
        "x": {"datum": {"year":2016,"month":10,"date":8}, "type": "temporal", "title": null},
        "x2": {"datum": {"year":2017,"month":1,"date":30}},
        "y": {"field": "p", "type": "quantitative"}
      }
    },
    {
      "data": {"values": [{"p": 18994.9}]},
      "mark": {"type": "rule", "strokeWidth": 16, "yOffset": 1.5, "color": "#ef5350"},
      "encoding": {
        "x": {"datum": {"year":2017,"month":2,"date":6}, "type": "temporal", "title": null},
        "x2": {"datum": {"year":2017,"month":5,"date":16}},
        "y": {"field": "p", "type": "quantitative"}
      }
    },
    {
      "data": {"values": [{"p": 18994.9, "t": "18994.90"}]},
      "mark": {"type": "text", "align": "right", "baseline": "middle", "dx": -10, "dy": 1.5, "color": "#ffffff", "fontSize": 12},
      "encoding": {
        "x": {"datum": {"year":2017,"month":1,"date":30}, "type": "temporal", "title": null},
        "y": {"field": "p", "type": "quantitative"},
        "text": {"field": "t"}
      }
    },
    {
      "data": {"values": [{"p": 18994.9, "t": "5d 5h"}]},
      "mark": {"type": "text", "align": "right", "baseline": "middle", "dx": -10, "dy": 16.5, "color": "#ffe0e0", "fontSize": 12},
      "encoding": {
        "x": {"datum": {"year":2017,"month":1,"date":30}, "type": "temporal", "title": null},
        "y": {"field": "p", "type": "quantitative"},
        "text": {"field": "t"}
      }
    },
    {
      "data": {"values": [{"p": 18994.9, "t": "BTCUSDT"}]},
      "mark": {"type": "text", "align": "center", "baseline": "middle", "dy": 1.5, "color": "#ffffff", "fontSize": 12},
      "encoding": {
        "x": {"datum": {"year":2017,"month":3,"date":27}, "type": "temporal", "title": null},
        "y": {"field": "p", "type": "quantitative"},
        "text": {"field": "t"}
      }
    }
  ]
},
{
  "layer": [
    {
      "data": {"values": [{"a": 70, "b": 30}]},
      "mark": {"type": "rect", "color": "#7e57c2", "opacity": 0.1},
      "encoding": {
        "x": {"datum": {"year":2017,"month":1,"date":30}, "type": "temporal", "title": null, "scale": {"domain": [{"year":2017,"month":1,"date":30},{"year":2023,"month":10,"date":17}], "padding": 0}},
        "x2": {"datum": {"year":2023,"month":10,"date":17}},
        "y": {"field": "a", "type": "quantitative",
          "scale": {"domain": [-21.4, 112.9], "range": [845, 487], "nice": false, "zero": false},
          "axis": {"orient": "right", "values": [-20, 0, 20, 40, 60, 80, 100], "labelExpr": "datum.value == 20 || datum.value == 80 ? '' : format(datum.value, '.2f')", "grid": true, "labelPadding": 8, "title": null}},
        "y2": {"field": "b"}
      }
    },
    {
      "data": {"values": [{"lv": 70}, {"lv": 50}, {"lv": 30}]},
      "mark": {"type": "rule", "color": "#787b86", "strokeWidth": 1, "strokeDash": [5, 5], "opacity": 0.8},
      "encoding": {"y": {"field": "lv", "type": "quantitative"}}
    },
    {
      "data": {"values": [{"lv": 88.05}]},
      "mark": {"type": "rule", "color": "#ffffff", "strokeWidth": 1.5},
      "encoding": {"y": {"field": "lv", "type": "quantitative"}}
    },
    {
      "data": {"values": [{"lv": 78.79}, {"lv": 20.92}]},
      "mark": {"type": "rule", "color": "#f23645", "strokeWidth": 2},
      "encoding": {"y": {"field": "lv", "type": "quantitative"}}
    },
    {
      "data": {"name": "btc"},
      "mark": {"type": "line", "color": "#7e57c2", "strokeWidth": 1.2},
      "encoding": {
        "x": {"field": "d", "type": "temporal", "title": null},
        "y": {"field": "r", "type": "quantitative"}
      }
    },
    {
      "data": {"values": [
        {"k":1,"d":"2020-11-23","r":106.9},{"k":1,"d":"2023-01-26","r":19.2},
        {"k":2,"d":"2020-07-20","r":56.8},{"k":2,"d":"2022-12-24","r":17.4}
      ]},
      "mark": {"type": "line", "color": "#ffffff", "strokeWidth": 2},
      "encoding": {
        "x": {"field": "d", "type": "temporal", "title": null},
        "y": {"field": "r", "type": "quantitative"},
        "detail": {"field": "k", "type": "nominal"}
      }
    },
    {
      "data": {"values": [{"d":"2017-02-15","r":107.3,"t":"RSI (14, close)"}]},
      "mark": {"type": "text", "fontSize": 12, "color": "#d1d4dc", "align": "left", "baseline": "middle"},
      "encoding": {
        "x": {"field": "d", "type": "temporal", "title": null},
        "y": {"field": "r", "type": "quantitative"},
        "text": {"field": "t"}
      }
    },
    {
      "data": {"values": [{"d": "2023-01-23"}]},
      "mark": {"type": "rule", "color": "#2962ff", "strokeWidth": 2},
      "encoding": {"x": {"field": "d", "type": "temporal", "title": null}}
    },
    {
      "data": {"values": [
        {"r":88.05,"t":"88.05","k":"w"},{"r":78.79,"t":"78.79","k":"r1"},
        {"r":31.10,"t":"31.10","k":"p"},{"r":20.92,"t":"20.92","k":"r2"}
      ]},
      "mark": {"type": "rule", "strokeWidth": 16},
      "encoding": {
        "x": {"datum": {"year":2023,"month":10,"date":17}, "type": "temporal", "title": null},
        "x2": {"datum": {"year":2024,"month":1,"date":5}},
        "y": {"field": "r", "type": "quantitative"},
        "color": {"field": "k", "type": "nominal", "legend": null,
          "scale": {"domain": ["w","r1","p","r2"], "range": ["#ffffff","#f23645","#7e57c2","#f23645"]}}
      }
    },
    {
      "data": {"values": [{"r":78.79,"t":"78.79"},{"r":31.10,"t":"31.10"},{"r":20.92,"t":"20.92"}]},
      "mark": {"type": "text", "align": "left", "baseline": "middle", "dx": 8, "dy": 1, "color": "#ffffff", "fontSize": 12},
      "encoding": {
        "x": {"datum": {"year":2023,"month":10,"date":17}, "type": "temporal", "title": null},
        "y": {"field": "r", "type": "quantitative"},
        "text": {"field": "t"}
      }
    },
    {
      "data": {"values": [{"r":88.05,"t":"88.05"}]},
      "mark": {"type": "text", "align": "left", "baseline": "middle", "dx": 8, "dy": 1, "color": "#131722", "fontSize": 12},
      "encoding": {
        "x": {"datum": {"year":2023,"month":10,"date":17}, "type": "temporal", "title": null},
        "y": {"field": "r", "type": "quantitative"},
        "text": {"field": "t"}
      }
    },
    {
      "data": {"values": [{"t": "23 Jan '23"}]},
      "mark": {"type": "rule", "strokeWidth": 22, "color": "#2962ff"},
      "encoding": {
        "x": {"datum": {"year":2022,"month":11,"date":25}, "type": "temporal", "title": null},
        "x2": {"datum": {"year":2023,"month":3,"date":21}},
        "y": {"datum": -25.9, "type": "quantitative"}
      }
    },
    {
      "data": {"values": [{"d": "2023-01-23", "t": "23 Jan '23"}]},
      "mark": {"type": "text", "align": "center", "baseline": "middle", "color": "#ffffff", "fontSize": 12},
      "encoding": {
        "x": {"field": "d", "type": "temporal", "title": null},
        "y": {"datum": -25.9, "type": "quantitative"},
        "text": {"field": "t"}
      }
    },
    {
      "data": {"values": [{"d": "2016-11-24", "t": "Z"}, {"d": "2023-12-02", "t": "A"}]},
      "mark": {"type": "circle", "size": 330, "color": "#1e222d", "opacity": 1},
      "encoding": {
        "x": {"field": "d", "type": "temporal", "title": null},
        "y": {"datum": -25.9, "type": "quantitative"}
      }
    },
    {
      "data": {"values": [{"d": "2016-11-24", "t": "Z"}, {"d": "2023-12-02", "t": "A"}]},
      "mark": {"type": "text", "align": "center", "baseline": "middle", "color": "#787b86", "fontSize": 11},
      "encoding": {
        "x": {"field": "d", "type": "temporal", "title": null},
        "y": {"datum": -25.9, "type": "quantitative"},
        "text": {"field": "t"}
      }
    },
    {
      "data": {"values": [{"t": "sep"}]},
      "mark": {"type": "rule", "strokeWidth": 2, "color": "#2a2e39"},
      "encoding": {
        "x": {"datum": {"year":2016,"month":8,"date":1}, "type": "temporal", "title": null},
        "x2": {"datum": {"year":2024,"month":3,"date":1}},
        "y": {"datum": 113.3, "type": "quantitative"}
      }
    },
    {
      "data": {"values": [{"d": "2017-01-30"}, {"d": "2023-10-17"}]},
      "mark": {"type": "rule", "strokeWidth": 1, "color": "#434651"},
      "encoding": {"x": {"field": "d", "type": "temporal", "title": null}}
    }
  ]
}
]
}
